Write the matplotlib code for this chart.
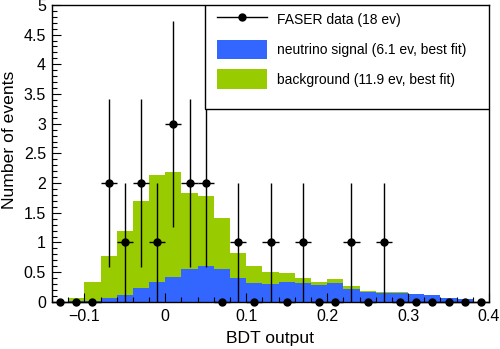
import matplotlib
matplotlib.use('Agg')
import matplotlib.pyplot as plt
import numpy as np
from matplotlib.lines import Line2D
from matplotlib.patches import Patch, Rectangle
from matplotlib.ticker import MultipleLocator, FuncFormatter

plt.rcParams['font.family'] = ['Liberation Sans', 'DejaVu Sans']

# BDT output binning (0.02 wide bins)
bin_edges = np.round(np.arange(-0.14, 0.4001, 0.02), 3)
bin_centers = 0.5 * (bin_edges[:-1] + bin_edges[1:])

# stacked expectation (best fit)
signal = [0.0, 0.01, 0.02, 0.06, 0.12, 0.23, 0.34, 0.42, 0.55, 0.61, 0.55, 0.40, 0.32, 0.30,
          0.33, 0.32, 0.28, 0.32, 0.22, 0.17, 0.15, 0.15, 0.13, 0.12, 0.06, 0.05, 0.0]
total = [0.0, 0.06, 0.33, 0.77, 1.20, 1.69, 2.14, 2.18, 1.83, 1.79, 1.42, 0.83, 0.61, 0.51,
         0.49, 0.41, 0.34, 0.38, 0.26, 0.19, 0.16, 0.16, 0.135, 0.12, 0.06, 0.05, 0.0]
background = np.array(total) - np.array(signal)

# observed events per bin
data = [0, 0, 0, 2, 1, 2, 1, 3, 2, 2, 0, 1, 0, 1, 0, 1, 0, 0, 1, 0, 1, 0, 0, 0, 0, 0, 0]

col_sig = '#3366ff'
col_bkg = '#99cc00'

fig = plt.figure(figsize=(5, 3.49), dpi=100)
ax = fig.add_axes([0.104, 0.135, 0.874, 0.851])

ax.hist([bin_centers, bin_centers], bins=bin_edges, weights=[signal, background],
        stacked=True, histtype='stepfilled', color=[col_sig, col_bkg], linewidth=0)

data = np.array(data, dtype=float)
ax.errorbar(bin_centers, data, xerr=0.01, yerr=np.sqrt(data), fmt='o', color='black',
            markersize=5, elinewidth=1, capsize=0, zorder=5, clip_on=False)

ax.set_xlim(-0.14, 0.4)
ax.set_ylim(0, 5)

ax.xaxis.set_major_locator(MultipleLocator(0.1))
ax.xaxis.set_minor_locator(MultipleLocator(0.02))
ax.yaxis.set_major_locator(MultipleLocator(0.5))
ax.yaxis.set_minor_locator(MultipleLocator(0.1))
fmt = FuncFormatter(lambda v, p: ('%g' % round(v, 3)).replace('-', '\u2212'))
ax.xaxis.set_major_formatter(fmt)
ax.yaxis.set_major_formatter(fmt)
ax.tick_params(which='both', direction='in', top=False, right=False, labelsize=11.5)
ax.tick_params(which='major', length=6.5, width=0.8)
ax.tick_params(which='minor', length=3.3, width=0.8)
ax.tick_params(axis='x', pad=5)
ax.tick_params(axis='y', pad=4.3)
for s in ax.spines.values():
    s.set_linewidth(1)

ax.set_xlabel('BDT output', fontsize=12.6)
ax.set_ylabel('Number of events', fontsize=12.6, va='center', ha='center')
ax.xaxis.set_label_coords(0.5, -0.098)
ax.yaxis.set_label_coords(-0.098, 0.545)

# legend box in the upper right corner
ax.add_patch(Rectangle((0.351, 0.651), 0.649, 0.349, transform=ax.transAxes,
                       facecolor='white', edgecolor='black', linewidth=1, zorder=6))
handles = [Line2D([], [], color='black', marker='o', markersize=5, linewidth=1),
           Patch(facecolor=col_sig, edgecolor='none'),
           Patch(facecolor=col_bkg, edgecolor='none')]
labels = ['FASER data (18 ev)', 'neutrino signal (6.1 ev, best fit)',
          'background (11.9 ev, best fit)']
leg = ax.legend(handles, labels, loc='upper left', bbox_to_anchor=(0.377, 0.9825),
                frameon=False, borderpad=0, borderaxespad=0, fontsize=10,
                handlelength=3.6, handleheight=1.8, labelspacing=0.72, handletextpad=0.74)
leg.set_zorder(7)

fig.savefig('out.png', dpi=100)
